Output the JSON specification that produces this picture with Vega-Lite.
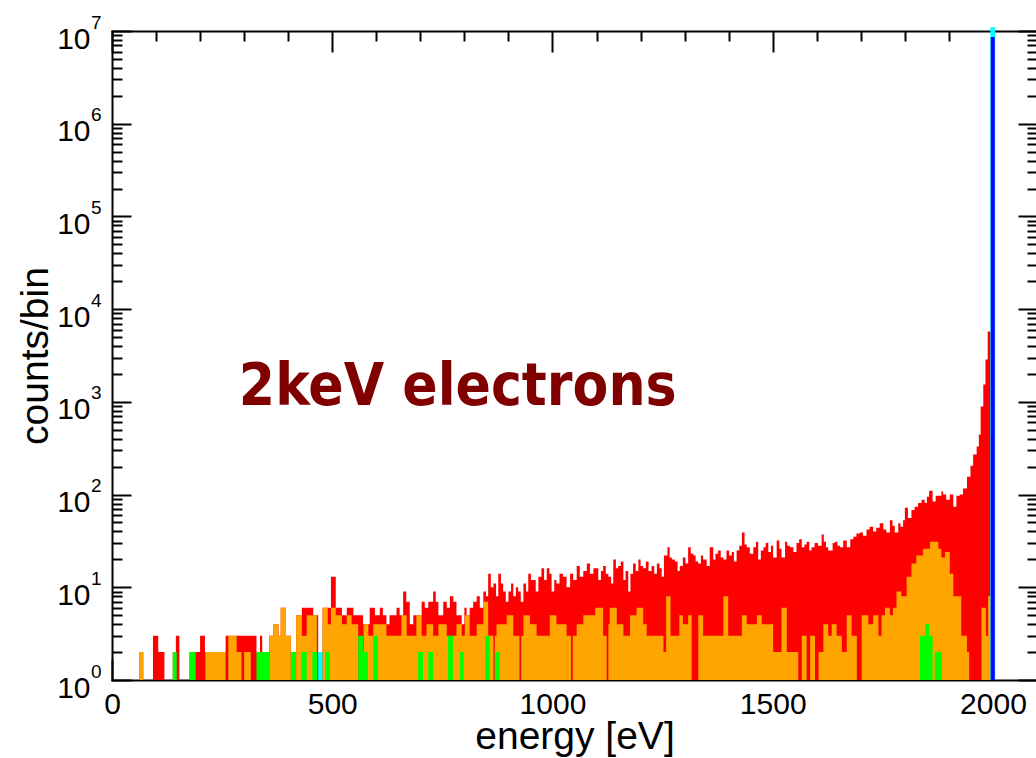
{
"$schema":"https://vega.github.io/schema/vega-lite/v6.json",
"width":925,"height":649,
"autosize":"none",
"padding":{"left":112,"top":31,"right":0,"bottom":78},
"background":"white",
"config":{"view":{"stroke":null},
"axis":{"labelFont":"Liberation Sans","titleFont":"Liberation Sans","tickColor":"black","domainColor":"black","labelColor":"black","titleColor":"black","tickWidth":2,"domainWidth":2,"domainCap":"square","grid":false,"zindex":1,"labelOverlap":false,"labelFlush":false,"labelBound":false,"titleFontWeight":"normal"}},
"datasets":{
"red":[{"e":62,"c":2},{"e":71,"c":1},{"e":93,"c":3},{"e":105,"c":2},{"e":119,"c":1},{"e":138,"c":2},{"e":145,"c":3},{"e":153,"c":1},{"e":176,"c":2},{"e":200,"c":3},{"e":211,"c":2},{"e":258,"c":3},{"e":328,"c":2},{"e":336,"c":3},{"e":341,"c":2},{"e":357,"c":3},{"e":366,"c":4},{"e":378,"c":3},{"e":383,"c":6},{"e":395,"c":3},{"e":406,"c":2},{"e":418,"c":5},{"e":431,"c":6},{"e":457,"c":5},{"e":468,"c":2},{"e":478,"c":6},{"e":497,"c":13},{"e":508,"c":6},{"e":522,"c":5},{"e":533,"c":6},{"e":548,"c":5},{"e":570,"c":4},{"e":585,"c":6},{"e":597,"c":5},{"e":608,"c":6},{"e":615,"c":5},{"e":623,"c":4},{"e":630,"c":5},{"e":646,"c":6},{"e":653,"c":5},{"e":661,"c":9},{"e":668,"c":7},{"e":676,"c":4},{"e":684,"c":5},{"e":703,"c":7},{"e":710,"c":6},{"e":718,"c":7},{"e":729,"c":9},{"e":735,"c":7},{"e":741,"c":5},{"e":752,"c":7},{"e":760,"c":6},{"e":767,"c":8},{"e":775,"c":7},{"e":782,"c":5},{"e":794,"c":4},{"e":800,"c":6},{"e":805,"c":5},{"e":812,"c":6},{"e":820,"c":7},{"e":828,"c":8},{"e":835,"c":6},{"e":843,"c":9},{"e":849,"c":8},{"e":854,"c":14},{"e":860,"c":10},{"e":866,"c":11},{"e":872,"c":8},{"e":877,"c":14},{"e":883,"c":11},{"e":888,"c":9},{"e":894,"c":7},{"e":900,"c":9},{"e":906,"c":11},{"e":911,"c":8},{"e":917,"c":10},{"e":922,"c":9},{"e":928,"c":7},{"e":934,"c":11},{"e":940,"c":9},{"e":945,"c":14},{"e":951,"c":12},{"e":962,"c":9},{"e":968,"c":13},{"e":975,"c":16},{"e":981,"c":12},{"e":987,"c":16},{"e":993,"c":14},{"e":998,"c":9},{"e":1004,"c":12},{"e":1009,"c":11},{"e":1016,"c":14},{"e":1024,"c":13},{"e":1032,"c":10},{"e":1040,"c":14},{"e":1047,"c":12},{"e":1055,"c":17},{"e":1062,"c":13},{"e":1070,"c":15},{"e":1078,"c":18},{"e":1085,"c":14},{"e":1093,"c":16},{"e":1104,"c":12},{"e":1110,"c":15},{"e":1115,"c":17},{"e":1121,"c":14},{"e":1127,"c":13},{"e":1133,"c":11},{"e":1138,"c":20},{"e":1144,"c":16},{"e":1149,"c":17},{"e":1155,"c":19},{"e":1161,"c":12},{"e":1166,"c":15},{"e":1172,"c":9},{"e":1177,"c":14},{"e":1183,"c":18},{"e":1189,"c":15},{"e":1195,"c":20},{"e":1200,"c":17},{"e":1206,"c":16},{"e":1212,"c":19},{"e":1218,"c":15},{"e":1225,"c":17},{"e":1231,"c":14},{"e":1237,"c":18},{"e":1243,"c":16},{"e":1248,"c":13},{"e":1253,"c":22},{"e":1261,"c":27},{"e":1266,"c":21},{"e":1271,"c":20},{"e":1278,"c":19},{"e":1284,"c":15},{"e":1289,"c":17},{"e":1296,"c":21},{"e":1302,"c":18},{"e":1308,"c":27},{"e":1314,"c":23},{"e":1320,"c":22},{"e":1325,"c":19},{"e":1331,"c":18},{"e":1337,"c":22},{"e":1342,"c":20},{"e":1350,"c":17},{"e":1357,"c":27},{"e":1365,"c":20},{"e":1370,"c":23},{"e":1376,"c":25},{"e":1382,"c":21},{"e":1388,"c":20},{"e":1395,"c":25},{"e":1401,"c":22},{"e":1407,"c":24},{"e":1412,"c":19},{"e":1418,"c":25},{"e":1424,"c":28},{"e":1430,"c":39},{"e":1436,"c":29},{"e":1441,"c":27},{"e":1448,"c":23},{"e":1456,"c":27},{"e":1462,"c":31},{"e":1467,"c":20},{"e":1473,"c":25},{"e":1479,"c":27},{"e":1484,"c":30},{"e":1490,"c":24},{"e":1496,"c":28},{"e":1501,"c":21},{"e":1509,"c":32},{"e":1515,"c":26},{"e":1520,"c":21},{"e":1528,"c":31},{"e":1533,"c":28},{"e":1539,"c":27},{"e":1547,"c":24},{"e":1554,"c":30},{"e":1560,"c":33},{"e":1566,"c":27},{"e":1572,"c":29},{"e":1577,"c":31},{"e":1583,"c":25},{"e":1588,"c":27},{"e":1595,"c":30},{"e":1603,"c":28},{"e":1611,"c":37},{"e":1616,"c":31},{"e":1621,"c":27},{"e":1626,"c":25},{"e":1636,"c":30},{"e":1641,"c":31},{"e":1647,"c":28},{"e":1653,"c":27},{"e":1660,"c":32},{"e":1668,"c":27},{"e":1676,"c":33},{"e":1683,"c":35},{"e":1690,"c":38},{"e":1698,"c":39},{"e":1705,"c":36},{"e":1713,"c":42},{"e":1720,"c":45},{"e":1728,"c":40},{"e":1735,"c":44},{"e":1743,"c":49},{"e":1751,"c":42},{"e":1758,"c":39},{"e":1766,"c":53},{"e":1772,"c":46},{"e":1777,"c":39},{"e":1785,"c":49},{"e":1790,"c":45},{"e":1796,"c":53},{"e":1800,"c":72},{"e":1807,"c":56},{"e":1815,"c":68},{"e":1822,"c":74},{"e":1830,"c":81},{"e":1838,"c":88},{"e":1845,"c":81},{"e":1850,"c":95},{"e":1855,"c":110},{"e":1863,"c":84},{"e":1870,"c":97},{"e":1883,"c":108},{"e":1887,"c":100},{"e":1894,"c":88},{"e":1902,"c":100},{"e":1910,"c":74},{"e":1917,"c":97},{"e":1925,"c":100},{"e":1932,"c":116},{"e":1941,"c":156},{"e":1949,"c":205},{"e":1955,"c":270},{"e":1963,"c":330},{"e":1968,"c":445},{"e":1972,"c":890},{"e":1978,"c":1540},{"e":1983,"c":2860},{"e":1988,"c":5740},{"e":1995,"c":1}],
"orange":[{"e":62,"c":2},{"e":71,"c":1},{"e":212,"c":2},{"e":258,"c":1},{"e":264,"c":3},{"e":283,"c":2},{"e":294,"c":1},{"e":300,"c":2},{"e":315,"c":1},{"e":357,"c":3},{"e":366,"c":4},{"e":378,"c":3},{"e":383,"c":6},{"e":395,"c":3},{"e":406,"c":1},{"e":418,"c":5},{"e":431,"c":3},{"e":442,"c":5},{"e":465,"c":1},{"e":478,"c":6},{"e":490,"c":4},{"e":497,"c":6},{"e":508,"c":5},{"e":522,"c":4},{"e":533,"c":5},{"e":544,"c":4},{"e":559,"c":1},{"e":571,"c":4},{"e":582,"c":3},{"e":593,"c":4},{"e":623,"c":3},{"e":657,"c":5},{"e":669,"c":3},{"e":691,"c":5},{"e":703,"c":3},{"e":714,"c":4},{"e":729,"c":3},{"e":741,"c":4},{"e":760,"c":3},{"e":782,"c":4},{"e":794,"c":3},{"e":801,"c":5},{"e":812,"c":3},{"e":828,"c":4},{"e":843,"c":7},{"e":854,"c":3},{"e":866,"c":1},{"e":869,"c":3},{"e":873,"c":4},{"e":896,"c":5},{"e":911,"c":3},{"e":925,"c":1},{"e":929,"c":3},{"e":934,"c":5},{"e":949,"c":4},{"e":964,"c":3},{"e":994,"c":5},{"e":1009,"c":4},{"e":1032,"c":3},{"e":1042,"c":1},{"e":1046,"c":3},{"e":1055,"c":4},{"e":1070,"c":5},{"e":1097,"c":6},{"e":1115,"c":3},{"e":1123,"c":1},{"e":1127,"c":4},{"e":1130,"c":6},{"e":1146,"c":4},{"e":1161,"c":3},{"e":1176,"c":5},{"e":1191,"c":6},{"e":1206,"c":4},{"e":1214,"c":3},{"e":1252,"c":2},{"e":1258,"c":8},{"e":1268,"c":3},{"e":1288,"c":5},{"e":1296,"c":4},{"e":1308,"c":5},{"e":1316,"c":1},{"e":1331,"c":5},{"e":1342,"c":3},{"e":1388,"c":8},{"e":1399,"c":3},{"e":1430,"c":5},{"e":1441,"c":4},{"e":1464,"c":5},{"e":1475,"c":4},{"e":1501,"c":2},{"e":1520,"c":6},{"e":1532,"c":2},{"e":1558,"c":1},{"e":1566,"c":3},{"e":1577,"c":1},{"e":1585,"c":3},{"e":1596,"c":1},{"e":1604,"c":2},{"e":1615,"c":4},{"e":1626,"c":3},{"e":1634,"c":4},{"e":1645,"c":3},{"e":1657,"c":2},{"e":1668,"c":5},{"e":1679,"c":3},{"e":1691,"c":1},{"e":1702,"c":5},{"e":1717,"c":4},{"e":1728,"c":5},{"e":1740,"c":3},{"e":1747,"c":5},{"e":1755,"c":6},{"e":1766,"c":5},{"e":1773,"c":6},{"e":1781,"c":9},{"e":1792,"c":8},{"e":1804,"c":13},{"e":1815,"c":18},{"e":1826,"c":22},{"e":1841,"c":26},{"e":1857,"c":31},{"e":1876,"c":26},{"e":1883,"c":21},{"e":1891,"c":24},{"e":1902,"c":14},{"e":1910,"c":8},{"e":1928,"c":3},{"e":1941,"c":2},{"e":1946,"c":1},{"e":1974,"c":6},{"e":1984,"c":3},{"e":1989,"c":8},{"e":1995,"c":1}],
"green":[{"e":138,"c":2},{"e":147,"c":1},{"e":176,"c":2},{"e":190,"c":1},{"e":328,"c":2},{"e":357,"c":1},{"e":406,"c":2},{"e":418,"c":1},{"e":430,"c":2},{"e":442,"c":1},{"e":455,"c":2},{"e":466,"c":1},{"e":484,"c":2},{"e":495,"c":1},{"e":559,"c":3},{"e":570,"c":2},{"e":581,"c":1},{"e":593,"c":3},{"e":604,"c":1},{"e":695,"c":2},{"e":706,"c":1},{"e":718,"c":2},{"e":729,"c":1},{"e":763,"c":3},{"e":774,"c":1},{"e":790,"c":2},{"e":798,"c":1},{"e":847,"c":3},{"e":858,"c":1},{"e":869,"c":2},{"e":880,"c":1},{"e":1834,"c":3},{"e":1846,"c":4},{"e":1855,"c":3},{"e":1863,"c":1},{"e":1868,"c":2},{"e":1884,"c":1}],
"cyan":[{"e":468,"c":2},{"e":478,"c":1},{"e":1994,"c":11000000},{"e":2005,"c":1}],
"blue":[{"e":1995,"c":8600000},{"e":2004,"c":1}]
},
"resolve":{"axis":{"x":"independent","y":"independent"}},
"layer":[
{"data":{"name":"red"},"mark":{"type":"area","interpolate":"step-after","color":"#ff0000"},
"encoding":{
"x":{"field":"e","type":"quantitative","scale":{"domain":[0,2100],"nice":false,"zero":false},
"axis":{"orient":"bottom","values":[0,500,1000,1500,2000],"format":"d","tickSize":-21,"labelFontSize":30,"labelBaseline":"alphabetic","labelPadding":54,"title":"energy [eV]","titleFontSize":39,"titleY":68,"titleBaseline":"alphabetic"}},
"y":{"field":"c","type":"quantitative","scale":{"type":"log","domain":[1,10000000],"nice":false},
"axis":{"orient":"left","values":[1,10,100,1000,10000,100000,1000000,10000000],"tickSize":-19,"labelExpr":"'10'","labelFontSize":30,"labelBaseline":"alphabetic","labelAlign":"right","labelOffset":17,"labelPadding":41,"title":"counts/bin","titleFontSize":39,"titleAngle":-90,"titleX":-65,"titleY":324.5,"titleBaseline":"alphabetic","titleAlign":"center"}},
"y2":{"datum":1}}},
{"data":{"name":"orange"},"mark":{"type":"area","interpolate":"step-after","color":"#ffa500"},
"encoding":{
"x":{"field":"e","type":"quantitative","scale":{"domain":[0,2100],"nice":false,"zero":false},
"axis":{"orient":"bottom","values":[100,200,300,400,600,700,800,900,1100,1200,1300,1400,1600,1700,1800,1900],"tickSize":-10,"labels":false,"domain":false,"title":null}},
"y":{"field":"c","type":"quantitative","scale":{"type":"log","domain":[1,10000000],"nice":false},
"axis":{"orient":"left","values":[2,3,4,5,6,7,8,9,20,30,40,50,60,70,80,90,200,300,400,500,600,700,800,900,2000,3000,4000,5000,6000,7000,8000,9000,20000,30000,40000,50000,60000,70000,80000,90000,200000,300000,400000,500000,600000,700000,800000,900000,2000000,3000000,4000000,5000000,6000000,7000000,8000000,9000000],"tickSize":-10,"labels":false,"domain":false,"title":null}},
"y2":{"datum":1}}},
{"data":{"name":"green"},"mark":{"type":"area","interpolate":"step-after","color":"#00ff00"},
"encoding":{
"x":{"field":"e","type":"quantitative","scale":{"domain":[0,2100],"nice":false,"zero":false},
"axis":{"orient":"top","values":[0,500,1000,1500,2000],"tickSize":-21,"labels":false,"title":null}},
"y":{"field":"c","type":"quantitative","scale":{"type":"log","domain":[1,10000000],"nice":false},
"axis":{"orient":"left","values":[1,10,100,1000,10000,100000,1000000,10000000],"ticks":false,"tickSize":0,"domain":false,"labelExpr":"'' + round(log(datum.value)/LN10)","labelFontSize":19,"labelBaseline":"alphabetic","labelAlign":"right","labelOffset":-3,"labelPadding":11,"title":null}},
"y2":{"datum":1}}},
{"data":{"name":"cyan"},"mark":{"type":"area","interpolate":"step-after","color":"#00ffff"},
"encoding":{
"x":{"field":"e","type":"quantitative","scale":{"domain":[0,2100],"nice":false,"zero":false},
"axis":{"orient":"top","values":[100,200,300,400,600,700,800,900,1100,1200,1300,1400,1600,1700,1800,1900],"tickSize":-10,"labels":false,"domain":false,"title":null}},
"y":{"field":"c","type":"quantitative","scale":{"type":"log","domain":[1,10000000],"nice":false},
"axis":{"orient":"right","values":[1,10,100,1000,10000,100000,1000000,10000000],"tickSize":-19,"labels":false,"title":null}},
"y2":{"datum":1}}},
{"data":{"name":"blue"},"mark":{"type":"area","interpolate":"step-after","color":"#0000ff"},
"encoding":{
"x":{"field":"e","type":"quantitative","scale":{"domain":[0,2100],"nice":false,"zero":false},"axis":null},
"y":{"field":"c","type":"quantitative","scale":{"type":"log","domain":[1,10000000],"nice":false},
"axis":{"orient":"right","values":[2,3,4,5,6,7,8,9,20,30,40,50,60,70,80,90,200,300,400,500,600,700,800,900,2000,3000,4000,5000,6000,7000,8000,9000,20000,30000,40000,50000,60000,70000,80000,90000,200000,300000,400000,500000,600000,700000,800000,900000,2000000,3000000,4000000,5000000,6000000,7000000,8000000,9000000],"tickSize":-10,"labels":false,"domain":false,"title":null}},
"y2":{"datum":1}}},
{"data":{"values":[{"label":"2keV electrons","e":288,"c":926}]},
"mark":{"type":"text","font":"DejaVu Sans Condensed","fontWeight":"bold","fontSize":58,"color":"#800000","align":"left","baseline":"alphabetic"},
"encoding":{
"x":{"field":"e","type":"quantitative","axis":null},
"y":{"field":"c","type":"quantitative","axis":null},
"text":{"field":"label"}}}
]
}
